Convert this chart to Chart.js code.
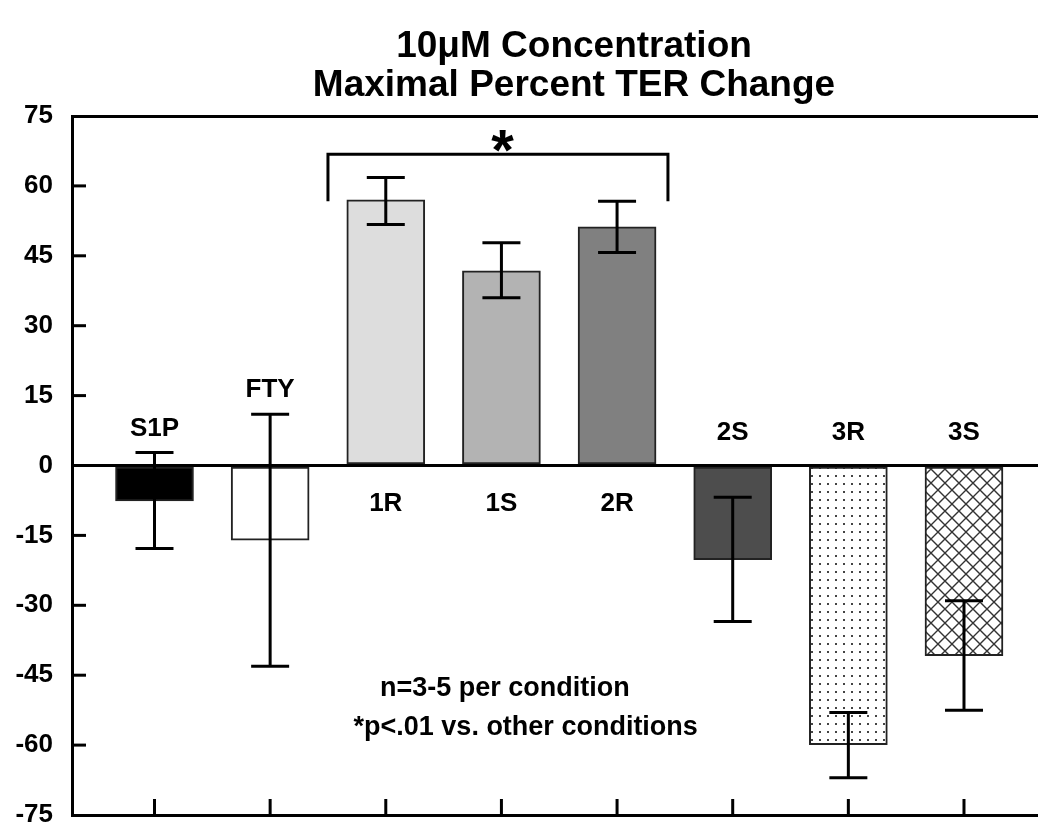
<!DOCTYPE html>
<html>
<head>
<meta charset="utf-8">
<script src="https://cdn.jsdelivr.net/npm/chart.js@4.4.0/dist/chart.umd.min.js"></script>
<style>
  html, body { margin: 0; background: #fff; }
  #wrap { width: 1038px; height: 833px; position: relative; }
</style>
</head>
<body>
<div id="wrap"><canvas id="chart"></canvas></div>
<script>
// values (percent TER change)
const categories = ['S1P', 'FTY', '1R', '1S', '2R', '2S', '3R', '3S'];
const meanValues = [-7.6, -16.0, 57.0, 41.8, 51.2, -20.2, -59.9, -40.8];
const errorTop = [2.8, 11.0, 61.8, 47.8, 56.7, -6.8, -53.0, -29.0];
const errorBottom = [-17.8, -43.1, 51.7, 36.0, 45.7, -33.5, -67.0, -52.5];
const yTicks = [75, 60, 45, 30, 15, 0, -15, -30, -45, -60, -75];
const titleLines = ['10\u03bcM Concentration', 'Maximal Percent TER Change'];
const noteLines = ['n=3-5 per condition', '*p<.01 vs. other conditions'];

const FONT = "'Liberation Sans', Arial, Helvetica, sans-serif";

function dotPattern() {
    const t = document.createElement('canvas');
    t.width = 8; t.height = 8;
    const g = t.getContext('2d');
    g.fillStyle = '#fff';
    g.fillRect(0, 0, 8, 8);
    g.fillStyle = '#444';
    g.fillRect(3, 3, 2, 2);
    return g.createPattern(t, 'repeat');
}

function hatchPattern() {
    const s = 14;
    const t = document.createElement('canvas');
    t.width = s; t.height = s;
    const g = t.getContext('2d');
    g.fillStyle = '#fff';
    g.fillRect(0, 0, s, s);
    g.strokeStyle = '#333';
    g.lineWidth = 1.4;
    g.beginPath();
    g.moveTo(-1, -1); g.lineTo(s + 1, s + 1);
    g.moveTo(s + 1, -1); g.lineTo(-1, s + 1);
    g.stroke();
    return g.createPattern(t, 'repeat');
}

const barFills = ['#000000', '#ffffff', '#dddddd', '#b3b3b3', '#808080', '#4d4d4d', dotPattern(), hatchPattern()];

const overlay = {
    id: 'overlay',
    afterDraw(chart) {
        const ctx = chart.ctx;
        const xs = chart.scales.x;
        const ys = chart.scales.y;
        const area = chart.chartArea;
        const zero = ys.getPixelForValue(0);
        ctx.save();
        ctx.strokeStyle = '#000';
        ctx.fillStyle = '#000';
        ctx.lineWidth = 3;
        ctx.lineCap = 'butt';

        // inward ticks on the left axis
        yTicks.forEach(v => {
            if (Math.abs(v) === 75) return;
            const y = ys.getPixelForValue(v);
            ctx.beginPath();
            ctx.moveTo(area.left, y);
            ctx.lineTo(area.left + 14, y);
            ctx.stroke();
        });

        // error bars, bottom ticks and bar labels
        ctx.font = 'bold 26px ' + FONT;
        ctx.textAlign = 'center';
        ctx.textBaseline = 'middle';
        categories.forEach((name, i) => {
            const x = xs.getPixelForValue(i);
            const yt = ys.getPixelForValue(errorTop[i]);
            const yb = ys.getPixelForValue(errorBottom[i]);
            ctx.beginPath();
            ctx.moveTo(x, yt); ctx.lineTo(x, yb);
            ctx.moveTo(x - 19, yt); ctx.lineTo(x + 19, yt);
            ctx.moveTo(x - 19, yb); ctx.lineTo(x + 19, yb);
            ctx.moveTo(x, area.bottom); ctx.lineTo(x, area.bottom - 16);
            ctx.stroke();

            let ly;
            if (meanValues[i] < 0) ly = Math.min(zero - 33, yt - 24);
            else ly = zero + 38;
            ctx.fillText(name, x, ly);
        });

        // significance bracket over 1R..2R
        const bx1 = xs.getPixelForValue(1.5);
        const bx2 = xs.getPixelForValue(4.44);
        const byT = ys.getPixelForValue(66.8);
        const byB = ys.getPixelForValue(56.7);
        ctx.lineJoin = 'miter';
        ctx.beginPath();
        ctx.moveTo(bx1, byB); ctx.lineTo(bx1, byT);
        ctx.lineTo(bx2, byT); ctx.lineTo(bx2, byB);
        ctx.stroke();
        ctx.font = 'bold 58px ' + FONT;
        ctx.textBaseline = 'alphabetic';
        ctx.fillText('*', xs.getPixelForValue(3.01), byT + 16);

        // notes
        ctx.font = 'bold 27px ' + FONT;
        ctx.textBaseline = 'middle';
        ctx.fillText(noteLines[0], xs.getPixelForValue(3.03), ys.getPixelForValue(-47.9));
        ctx.fillText(noteLines[1], xs.getPixelForValue(3.21), ys.getPixelForValue(-56.2));

        // title
        ctx.font = 'bold 37px ' + FONT;
        ctx.textBaseline = 'alphabetic';
        ctx.fillText(titleLines[0], 574, 57);
        ctx.fillText(titleLines[1], 574, 96);
        ctx.restore();
    }
};

const ctx = document.getElementById('chart').getContext('2d');
new Chart(ctx, {
    type: 'bar',
    data: {
        datasets: [{
            data: categories.map((c, i) => ({ x: i, y: meanValues[i] })),
            backgroundColor: barFills,
            borderColor: '#222',
            borderWidth: 2,
            borderSkipped: false,
            barThickness: 78
        }]
    },
    options: {
        responsive: true,
        maintainAspectRatio: false,
        animation: false,
        layout: { padding: { top: 116, bottom: 18, left: 0, right: 0 } },
        plugins: {
            legend: { display: false },
            tooltip: { enabled: false },
            title: { display: false }
        },
        scales: {
            x: {
                type: 'linear',
                min: -0.7134,
                max: 7.640,
                offset: false,
                display: false
            },
            y: {
                min: -75,
                max: 75,
                z: 1,
                afterFit(scale) {
                    scale.width = 72;
                    scale.paddingTop = 0;
                    scale.paddingBottom = 0;
                },
                afterBuildTicks(scale) { scale.ticks = yTicks.map(v => ({ value: v })); },
                ticks: {
                    color: '#000',
                    padding: 19,
                    font: { family: FONT, size: 26, weight: 'bold' }
                },
                grid: {
                    drawTicks: false,
                    lineWidth: 3,
                    color: c => (c.tick && (c.tick.value === 0 || Math.abs(c.tick.value) === 75)) ? '#000' : 'rgba(0,0,0,0)'
                },
                border: { display: true, color: '#000', width: 3 }
            }
        }
    },
    plugins: [overlay]
});
</script>
</body>
</html>
